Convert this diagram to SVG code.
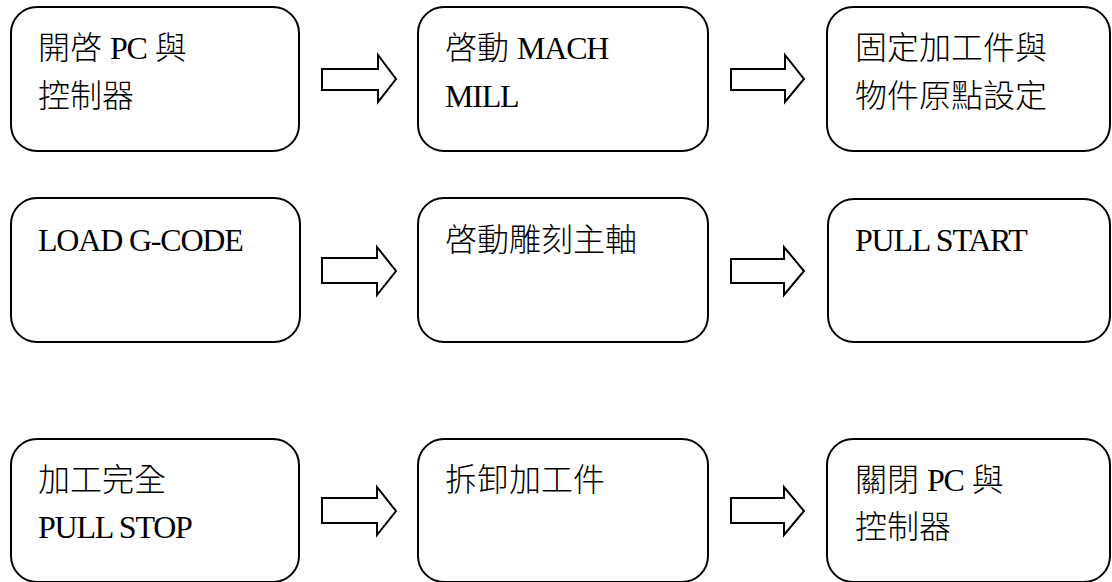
<svg xmlns="http://www.w3.org/2000/svg" width="1112" height="582" viewBox="0 0 1112 582">
<style>
.box{fill:#fff;stroke:#000;stroke-width:2}
.arr{fill:#fff;stroke:#000;stroke-width:2;stroke-linejoin:miter}
.t{font-family:"Liberation Serif","Noto Sans CJK TC",serif;font-size:32px;font-weight:300;fill:#000}
.l{letter-spacing:-1.2px}
</style>
<rect width="1112" height="582" fill="#fff"/>
<g id="n1"><rect class="box" x="11" y="7" width="288" height="144" rx="26"/><text class="t" x="38" y="59">開啓 <tspan class="l">PC</tspan> 與</text><text class="t" x="38" y="107">控制器</text></g>
<g id="n2"><rect class="box" x="418" y="7" width="290" height="144" rx="26"/><text class="t" x="445" y="59">啓動 <tspan class="l">MACH</tspan></text><text class="t l" x="445" y="107">MILL</text></g>
<g id="n3"><rect class="box" x="827" y="7" width="283" height="144" rx="26"/><text class="t" x="855" y="59">固定加工件與</text><text class="t" x="855" y="107">物件原點設定</text></g>
<g id="n4"><rect class="box" x="11" y="198" width="289" height="144" rx="26"/><text class="t l" x="38" y="251">LOAD G-CODE</text></g>
<g id="n5"><rect class="box" x="418" y="198" width="290" height="144" rx="26"/><text class="t" x="445" y="251">啓動雕刻主軸</text></g>
<g id="n6"><rect class="box" x="828" y="199" width="282" height="143" rx="26"/><text class="t l" x="855" y="251">PULL START</text></g>
<g id="n7"><rect class="box" x="11" y="439" width="288" height="143" rx="26"/><text class="t" x="38" y="491">加工完全</text><text class="t l" x="38" y="538">PULL STOP</text></g>
<g id="n8"><rect class="box" x="418" y="439" width="290" height="143" rx="26"/><text class="t" x="445" y="491">拆卸加工件</text></g>
<g id="n9"><rect class="box" x="827" y="439" width="283" height="143" rx="26"/><text class="t" x="855" y="491">關閉 <tspan class="l">PC</tspan> 與</text><text class="t" x="855" y="538">控制器</text></g>
<g id="connectors">
<polygon class="arr" points="322,69 378,69 378,55 396,79 378,102 378,90 322,90"/>
<polygon class="arr" points="731,69 785,69 785,55 804,79 785,102 785,90 731,90"/>
<polygon class="arr" points="322,258 377,258 377,247 396,271 377,295 377,283 322,283"/>
<polygon class="arr" points="731,259 784,259 784,247 804,271 784,295 784,283 731,283"/>
<polygon class="arr" points="322,498 377,498 377,487 396,511 377,535 377,523 322,523"/>
<polygon class="arr" points="731,498 784,498 784,487 804,511 784,535 784,523 731,523"/>
</g>
</svg>
